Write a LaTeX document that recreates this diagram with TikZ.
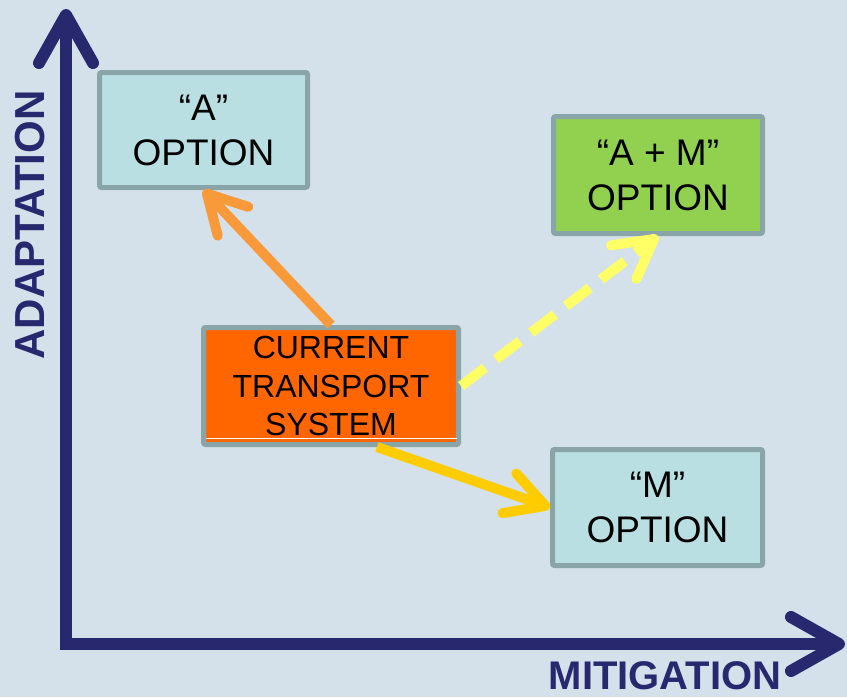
\documentclass[tikz,border=0pt]{standalone}
\usepackage{fontspec}
\setmainfont{Liberation Sans}
\usetikzlibrary{arrows.meta}
\definecolor{bgblue}{HTML}{D5E1EA}
\definecolor{navy}{HTML}{28286F}
\definecolor{boxgray}{HTML}{8AA5A8}
\definecolor{paleteal}{HTML}{B9DFE2}
\definecolor{leafgreen}{HTML}{92D050}
\definecolor{hotorange}{HTML}{FF6600}
\definecolor{softorange}{HTML}{F99A3A}
\definecolor{paleyellow}{HTML}{FFFF66}
\definecolor{gold}{HTML}{FFCC00}

\begin{document}
\begin{tikzpicture}[x=1pt,y=-1pt,
    option/.style={draw=boxgray,line width=5pt,rounded corners=2pt,inner sep=0pt,
        align=center,font=\fontsize{37}{45}\selectfont},
    move/.style={line width=10pt,-{Straight Barb[length=38pt,width=42pt,round]}}]

\fill[bgblue] (0,0) rectangle (847,697);
\useasboundingbox (0,0) rectangle (847,697);

% axes
\coordinate (O) at (66,644);
\coordinate (ytip) at (66,9);
\coordinate (xtip) at (845,644);
\draw[navy,line width=12pt,line join=miter,
    {Straight Barb[length=48pt,width=54pt,round]}-{Straight Barb[length=48pt,width=54pt,round]}]
    (ytip) -- (O) -- (xtip);
\node[navy,font=\fontsize{42}{42}\selectfont\bfseries,rotate=90,anchor=base,inner sep=0pt] (adapt) at (44,225) {ADAPTATION};
\node[navy,font=\fontsize{40}{40}\selectfont\bfseries,anchor=base,inner sep=0pt] (mitig) at (665,689) {MITIGATION};

% boxes
\node[option,fill=paleteal,minimum width=208pt,minimum height=115pt] (A) at (203.5,130) {“A”\\OPTION};
\node[option,fill=leafgreen,minimum width=209pt,minimum height=117pt] (AM) at (658,175) {“A + M”\\OPTION};
\node[option,fill=paleteal,minimum width=210pt,minimum height=116pt] (M) at (657.5,507.5) {“M”\\OPTION};
\node[option,fill=hotorange,minimum width=255pt,minimum height=117pt,
    font=\fontsize{32}{38.5}\selectfont] (cur) at (331,386) {CURRENT\\TRANSPORT\\SYSTEM};
\draw[white,line width=1pt] ([xshift=5pt,yshift=9pt]cur.south west) -- ([xshift=-4pt,yshift=9pt]cur.south east);

% moves
\draw[move,softorange] (cur.north) -- (A.south);
\draw[move,paleyellow,dash pattern=on 30pt off 14pt] (cur.east) -- (AM.south);
\draw[move,gold] ([xshift=46pt]cur.south) -- (M.west);
\end{tikzpicture}
\end{document}
